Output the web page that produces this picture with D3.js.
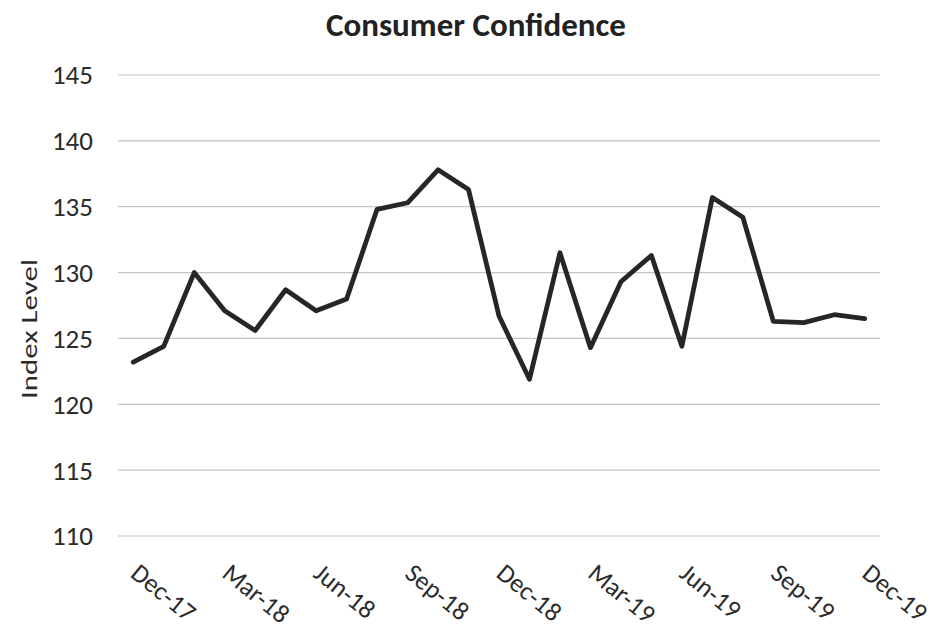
<!DOCTYPE html>
<html><head><meta charset="utf-8">
<script src="https://cdn.jsdelivr.net/npm/d3@7"></script>
<style>body{margin:0;background:#fff}svg{display:block}</style>
</head><body>
<svg id="chart" width="951" height="633"></svg>
<script>
const months = ["Dec-17","Jan-18","Feb-18","Mar-18","Apr-18","May-18","Jun-18","Jul-18","Aug-18","Sep-18","Oct-18","Nov-18","Dec-18","Jan-19","Feb-19","Mar-19","Apr-19","May-19","Jun-19","Jul-19","Aug-19","Sep-19","Oct-19","Nov-19","Dec-19"];
const values = [123.2,124.4,130.0,127.1,125.6,128.7,127.1,128.0,134.8,135.3,137.8,136.3,126.7,121.9,131.5,124.3,129.3,131.3,124.4,135.7,134.2,126.3,126.2,126.8,126.5];
const yTicks = [110,115,120,125,130,135,140,145];
const xTickLabels = ["Dec-17","Mar-18","Jun-18","Sep-18","Dec-18","Mar-19","Jun-19","Sep-19","Dec-19"];
const title = "Consumer Confidence";
const yTitle = "Index Level";

const font = "Carlito, Calibri, Lato, sans-serif";
const svg = d3.select("#chart");
const mL = 118, mR = 880, mT = 75, mB = 536;

const x = d3.scalePoint().domain(months).range([mL, mR]).padding(0.5);
const y = d3.scaleLinear().domain([110,145]).range([mB, mT]);

// gridlines
svg.append("g").selectAll("line").data(yTicks).join("line")
  .attr("x1", mL).attr("x2", mR)
  .attr("y1", d => y(d)).attr("y2", d => y(d))
  .attr("stroke", "#c4c4c4").attr("stroke-width", 1.2);

// y axis labels
const yAxis = d3.axisLeft(y).tickValues(yTicks).tickSize(0).tickPadding(0);
const gy = svg.append("g").attr("transform", `translate(93,0)`).call(yAxis);
gy.select(".domain").remove();
gy.selectAll("text").attr("font-family", font).attr("font-size", 27).attr("fill", "#2b2b2b").attr("dy", "0.33em");

// x axis labels
const xAxis = d3.axisBottom(x).tickValues(xTickLabels).tickSize(0).tickPadding(0);
const gx = svg.append("g").call(xAxis);
gx.select(".domain").remove();
gx.selectAll(".tick").attr("transform", d => `translate(${x(d) - 4},576)`);
gx.selectAll("text").attr("font-family", font).attr("font-size", 26).attr("fill", "#2b2b2b")
  .attr("text-anchor", "start").attr("x", 0).attr("y", 0).attr("dy", 0)
  .attr("transform", "rotate(39)");

// line
const line = d3.line().x((d, i) => x(months[i])).y(d => y(d));
svg.append("path").datum(values).attr("d", line)
  .attr("fill", "none").attr("stroke", "#262626").attr("stroke-width", 4.8)
  .attr("stroke-linejoin", "round").attr("stroke-linecap", "round");

// title
svg.append("text").attr("x", 476).attr("y", 36).attr("text-anchor", "middle")
  .attr("font-family", font).attr("font-weight", "bold").attr("font-size", 33)
  .attr("fill", "#222").text(title);

// y title
svg.append("text").attr("transform", "translate(37,329) rotate(-90)")
  .attr("text-anchor", "middle").attr("font-family", font).attr("font-size", 23)
  .attr("textLength", 140).attr("lengthAdjust", "spacingAndGlyphs")
  .attr("fill", "#2b2b2b").text(yTitle);
</script>
</body></html>
